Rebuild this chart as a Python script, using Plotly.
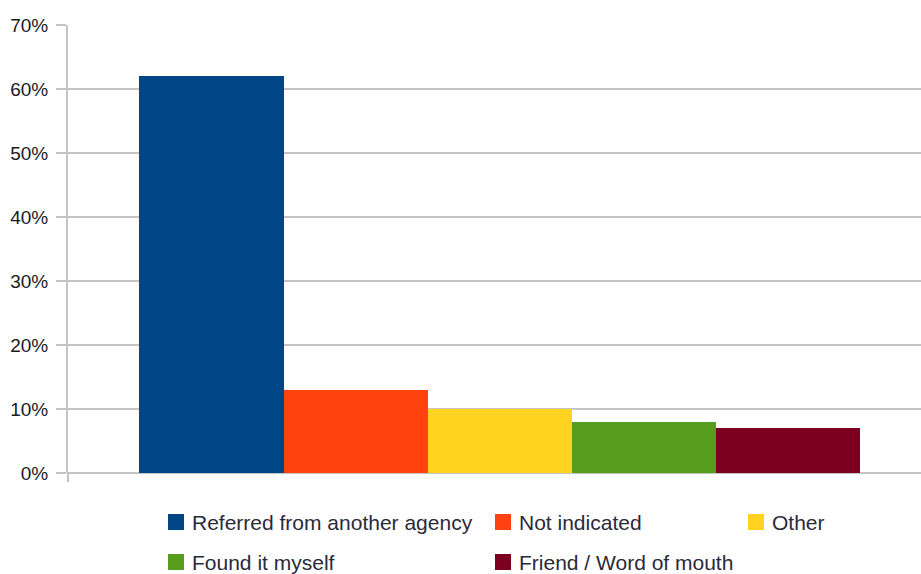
import plotly.graph_objects as go

# Survey: how respondents heard about the service
categories = ["Referred from another agency", "Not indicated", "Other",
              "Found it myself", "Friend / Word of mouth"]
shares = [0.62, 0.13, 0.10, 0.08, 0.07]
colors = ["#004586", "#ff420e", "#ffd320", "#579d1c", "#7e0021"]
y_ticks = [0, 0.1, 0.2, 0.3, 0.4, 0.5, 0.6, 0.7]
y_tick_text = ["0%", "10%", "20%", "30%", "40%", "50%", "60%", "70%"]

W, H = 921, 574
ML, MR, MT, MB = 68, 0, 25, 101
PW, PH = W - ML - MR, H - MT - MB

fig = go.Figure()
fig.add_trace(go.Bar(
    x=categories, y=shares, marker=dict(color=colors, line=dict(width=0)),
    showlegend=False, hoverinfo="x+y",
))

GRID = "#c4c4c4"
fig.update_layout(
    width=W, height=H,
    margin=dict(l=ML, r=MR, t=MT, b=MB),
    paper_bgcolor="white", plot_bgcolor="white",
    bargap=0,
    font=dict(family="Liberation Sans, Arial, sans-serif", color="#222222"),
    xaxis=dict(
        type="category", range=[-0.996, 4.923], showticklabels=False,
        showgrid=False, zeroline=False, showline=False, ticks="",
    ),
    yaxis=dict(
        range=[0, 0.7], tickvals=y_ticks, ticktext=y_tick_text,
        showgrid=True, gridcolor=GRID, gridwidth=2,
        ticks="outside", ticklen=10, tickcolor=GRID, tickwidth=2,
        showline=True, linecolor=GRID, linewidth=2,
        zeroline=True, zerolinecolor=GRID, zerolinewidth=2,
        tickfont=dict(size=19, color="#1a1a1a"), ticklabelstandoff=4,
    ),
)

# small stub below the axis corner
fig.add_shape(type="line", xref="paper", yref="paper",
              x0=0, x1=0, y0=0, y1=-9 / PH,
              line=dict(color=GRID, width=2))


def px_x(px):
    return (px - ML) / PW


def px_y(py):
    return (H - MB - py) / PH


# legend laid out in two rows with content-sized columns
legend_slots = [(168, 522), (495, 522), (748, 522), (168, 562), (495, 562)]
for name, col, (lx, ly) in zip(categories, colors, legend_slots):
    fig.add_shape(type="rect", xref="paper", yref="paper",
                  x0=px_x(lx), x1=px_x(lx + 16),
                  y0=px_y(ly - 8), y1=px_y(ly + 8),
                  fillcolor=col, line=dict(width=0))
    fig.add_annotation(xref="paper", yref="paper",
                       x=px_x(lx + 22), y=px_y(ly),
                       text=name, showarrow=False,
                       xanchor="left", yanchor="middle",
                       font=dict(size=21, color="#2a2a3a"))

fig.write_html("out.html")
